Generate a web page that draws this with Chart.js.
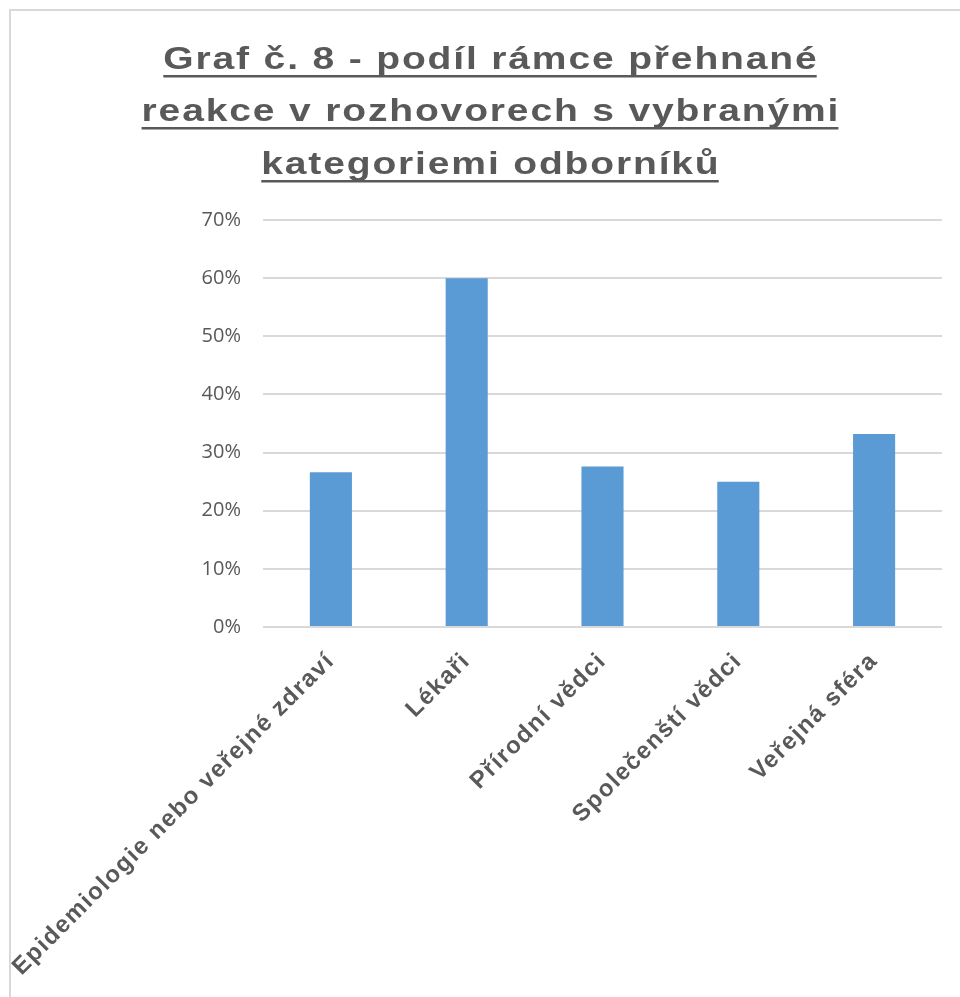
<!DOCTYPE html>
<html>
<head>
<meta charset="utf-8">
<script src="https://cdn.jsdelivr.net/npm/chart.js@4"></script>
<style>
html, body { margin: 0; padding: 0; background: #fff; overflow: hidden; }
#graf { position: absolute; left: 0; top: 0; }
</style>
</head>
<body>
<canvas id="graf" width="960" height="997"></canvas>
<script>
// data grafu
var kategorie = ["Epidemiologie nebo veřejné zdraví", "Lékaři", "Přírodní vědci", "Společenští vědci", "Veřejná sféra"];
var podil = [26.6, 60, 27.6, 25, 33.2];
var osaMax = 70;
var osaKrok = 10;
var titulek = ["Graf č. 8 - podíl rámce přehnané", "reakce v rozhovorech s vybranými", "kategoriemi odborníků"];

var SEDA = "#595959";

// popisky osy x jsou v originale sirsi - pridame proklad pismen
var kresliPopisky = Chart.CategoryScale.prototype.drawLabels;
Chart.CategoryScale.prototype.drawLabels = function (area) {
    this.ctx.save();
    this.ctx.letterSpacing = "1.5px";
    kresliPopisky.call(this, area);
    this.ctx.restore();
};

// ramecek a nadpis s podtrzenim
var nadpisPlugin = {
    id: "nadpis",
    beforeDraw: function (chart) {
        var ctx = chart.ctx;
        ctx.save();
        ctx.fillStyle = "#d9d9d9";
        ctx.fillRect(9, 9, 960, 2);
        ctx.fillRect(9, 9, 2, 997);
        ctx.restore();
    },
    afterDraw: function (chart) {
        var ctx = chart.ctx;
        var radky = [69, 121, 174];
        var sx = 1.22, stred = 490, proklad = 1.5;
        ctx.save();
        ctx.font = "bold 32px 'Liberation Sans', Arial, sans-serif";
        ctx.letterSpacing = proklad + "px";
        ctx.fillStyle = SEDA;
        ctx.textAlign = "left";
        ctx.textBaseline = "alphabetic";
        for (var i = 0; i < titulek.length; i++) {
            var w = ctx.measureText(titulek[i]).width - proklad;
            var x0 = stred - w * sx / 2;
            ctx.save();
            ctx.translate(x0, radky[i]);
            ctx.scale(sx, 1);
            ctx.fillText(titulek[i], 0, 0);
            ctx.restore();
            ctx.fillRect(x0, radky[i] + 6, w * sx, 2.5);
        }
        ctx.restore();
    }
};

function VeGraf() {
    new Chart("graf", {
        type: "bar",
        data: {
            labels: kategorie,
            datasets: [{
                data: podil,
                backgroundColor: "#5B9BD5",
                borderWidth: 0,
                categoryPercentage: 1,
                barPercentage: 0.31
            }]
        },
        options: {
            responsive: false,
            devicePixelRatio: 1,
            animation: false,
            layout: { padding: { top: 220, right: 18, left: 0, bottom: 0 } },
            plugins: {
                legend: { display: false },
                title: { display: false },
                tooltip: { enabled: false }
            },
            scales: {
                x: {
                    grid: { display: false },
                    border: { display: false },
                    ticks: {
                        color: SEDA,
                        font: { family: "'Liberation Sans', Arial, sans-serif", size: 24, weight: "bold" },
                        maxRotation: 45,
                        minRotation: 45,
                        padding: 12,
                        autoSkip: false
                    },
                    afterFit: function (scale) { scale.height = 370; }
                },
                y: {
                    min: 0,
                    max: osaMax,
                    grid: { color: "#d9d9d9", lineWidth: 2, drawTicks: false },
                    border: { display: false },
                    ticks: {
                        stepSize: osaKrok,
                        color: SEDA,
                        padding: 22,
                        font: { family: "'Open Sans', sans-serif", size: 20 },
                        callback: function (v) { return v + "%"; }
                    },
                    afterFit: function (scale) { scale.width = 263; }
                }
            }
        },
        plugins: [nadpisPlugin]
    });
}

VeGraf();
</script>
</body>
</html>
